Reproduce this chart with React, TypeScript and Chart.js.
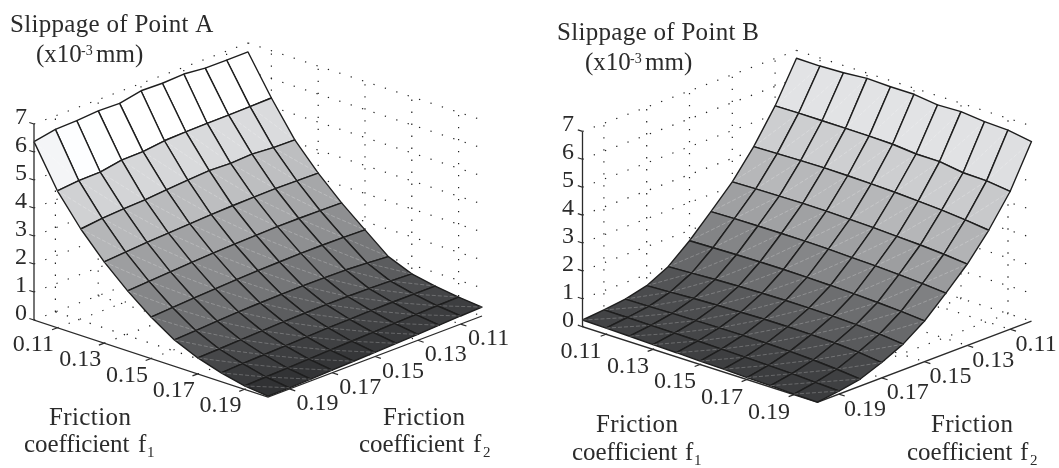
import React, { useEffect, useRef } from "react";
import { Chart, registerables } from "chart.js";

Chart.register(...registerables);

// ---------- data ----------
const F1_GRID = [0.1, 0.11, 0.12, 0.13, 0.14, 0.15, 0.16, 0.17, 0.18, 0.19, 0.2];
const F2_GRID = [0.2, 0.19, 0.18, 0.17, 0.16, 0.15, 0.14, 0.13, 0.12, 0.11, 0.1];
const F_TICKS = [0.11, 0.13, 0.15, 0.17, 0.19];
const Z_TICKS = [0, 1, 2, 3, 4, 5, 6, 7];

// Point A: one row per f1 (0.10 .. 0.20), values along F2_GRID
const A_F1_010 = [6.37, 6.52, 6.54, 6.6, 6.58, 6.74, 6.72, 6.76, 6.68, 6.68, 6.68];
const A_F1_011 = [4.89, 4.96, 4.98, 5.12, 5.13, 5.23, 5.26, 5.27, 5.28, 5.29, 5.31];
const A_F1_012 = [3.8, 3.89, 3.94, 3.97, 4.04, 4.1, 4.15, 4.12, 4.16, 4.1, 4.09];
const A_F1_013 = [2.9, 2.96, 3.02, 3.06, 3.1, 3.14, 3.17, 3.19, 3.2, 3.19, 3.18];
const A_F1_014 = [2.14, 2.19, 2.24, 2.29, 2.33, 2.36, 2.39, 2.41, 2.41, 2.4, 2.39];
const A_F1_015 = [1.48, 1.53, 1.58, 1.62, 1.66, 1.69, 1.71, 1.73, 1.73, 1.72, 1.7];
const A_F1_016 = [0.94, 0.98, 1.03, 1.07, 1.1, 1.12, 1.13, 1.13, 1.12, 1.08, 1.02];
const A_F1_017 = [0.57, 0.6, 0.64, 0.67, 0.7, 0.72, 0.74, 0.74, 0.73, 0.71, 0.68];
const A_F1_018 = [0.31, 0.35, 0.38, 0.41, 0.44, 0.47, 0.49, 0.51, 0.52, 0.52, 0.52];
const A_F1_019 = [0.12, 0.15, 0.18, 0.21, 0.24, 0.27, 0.3, 0.33, 0.35, 0.38, 0.4];
const A_F1_020 = [0.03, 0.04, 0.06, 0.09, 0.12, 0.15, 0.18, 0.21, 0.25, 0.29, 0.32];
const SLIP_A = [A_F1_010, A_F1_011, A_F1_012, A_F1_013, A_F1_014, A_F1_015, A_F1_016, A_F1_017, A_F1_018, A_F1_019, A_F1_020];

// Point B: one row per f2 (0.20 .. 0.10), values along F1_GRID
const B_F2_020 = [0.24, 0.22, 0.2, 0.17, 0.15, 0.12, 0.1, 0.07, 0.05, 0.02, 0.0];
const B_F2_019 = [0.31, 0.31, 0.3, 0.29, 0.28, 0.26, 0.24, 0.22, 0.19, 0.15, 0.11];
const B_F2_018 = [0.41, 0.42, 0.44, 0.45, 0.46, 0.46, 0.45, 0.43, 0.39, 0.33, 0.25];
const B_F2_017 = [0.6, 0.64, 0.68, 0.71, 0.73, 0.75, 0.75, 0.74, 0.71, 0.65, 0.55];
const B_F2_016 = [0.99, 1.03, 1.07, 1.1, 1.12, 1.13, 1.13, 1.11, 1.08, 1.01, 0.92];
const B_F2_015 = [1.63, 1.65, 1.67, 1.68, 1.68, 1.67, 1.65, 1.62, 1.58, 1.53, 1.46];
const B_F2_014 = [2.38, 2.4, 2.41, 2.41, 2.41, 2.39, 2.36, 2.33, 2.29, 2.24, 2.17];
const B_F2_013 = [3.16, 3.18, 3.19, 3.2, 3.19, 3.17, 3.14, 3.1, 3.06, 3.0, 2.92];
const B_F2_012 = [4.13, 4.15, 4.17, 4.18, 4.17, 4.15, 4.12, 4.07, 4.02, 3.94, 3.84];
const B_F2_011 = [5.3, 5.31, 5.31, 5.31, 5.3, 5.28, 5.2, 5.2, 5.07, 5.05, 4.94];
const B_F2_010 = [6.72, 6.71, 6.74, 6.81, 6.78, 6.78, 6.67, 6.7, 6.61, 6.58, 6.44];
const SLIP_B_BY_F2 = [B_F2_020, B_F2_019, B_F2_018, B_F2_017, B_F2_016, B_F2_015, B_F2_014, B_F2_013, B_F2_012, B_F2_011, B_F2_010];
const SLIP_B = F1_GRID.map((_, i) => SLIP_B_BY_F2.map((row) => row[i]));

// gray ramps: height -> gray level
const RAMP_Z = [0, 0.2, 0.4, 0.7, 1.1, 1.65, 2.35, 3.15, 4.1, 5.2, 6.4, 6.55];
const RAMP_A = [44, 52, 62, 76, 92, 116, 140, 165, 189, 216, 245, 255];
const RAMP_B = [58, 64, 74, 88, 108, 132, 158, 182, 204, 225, 240, 250];

const FONT = '"Liberation Serif", serif';
const INK = "#2b2b2b";
const TICK_SIZE = 24;
const TEXT_SIZE = 25;
const SMALL_SIZE = 15;

function grayOf(z: number, ramp: number[]) {
  let k = 0;
  while (k < RAMP_Z.length - 2 && z > RAMP_Z[k + 1]) k++;
  const t = Math.min(1, Math.max(0, (z - RAMP_Z[k]) / (RAMP_Z[k + 1] - RAMP_Z[k])));
  const g = Math.round(ramp[k] + t * (ramp[k + 1] - ramp[k]));
  return `rgb(${g},${Math.min(255, g + 1)},${Math.min(255, g + 3)})`;
}

type TextRun = { s: string; x: number; y: number; size?: number; ls?: number };

type PanelCfg = {
  xMin: number; xMax: number;
  origin: [number, number];
  f1Vec: [number, number];
  f2Vec: [number, number];
  zUnit: number;
  surface: number[][];
  ramp: number[];
  f1Offset: [number, number];
  f2Offset: [number, number];
  zLabelX: number;
  texts: TextRun[];
};

const PANEL_A: PanelCfg = {
  xMin: 0, xMax: 530,
  origin: [34, 320], f1Vec: [234, 77], f2Vec: [214, -81], zUnit: 28,
  surface: SLIP_A, ramp: RAMP_A,
  f1Offset: [-24, 23], f2Offset: [28, 21], zLabelX: 27,
  texts: [
    { s: "Slippage of Point A", x: 10, y: 32, ls: 0.3 },
    { s: "(x10", x: 36, y: 62 },
    { s: "-3", x: 81, y: 55, size: 14 },
    { s: "mm)", x: 96, y: 62 },
    { s: "Friction", x: 49, y: 425, ls: 0.4 },
    { s: "coefficient", x: 24, y: 452, ls: -0.1 },
    { s: "f", x: 138, y: 452 },
    { s: "1", x: 147, y: 457, size: SMALL_SIZE },
    { s: "Friction", x: 383, y: 425, ls: 0.4 },
    { s: "coefficient", x: 359, y: 452, ls: -0.1 },
    { s: "f", x: 473, y: 452 },
    { s: "2", x: 483, y: 457, size: SMALL_SIZE },
  ],
};

const PANEL_B: PanelCfg = {
  xMin: 530, xMax: 1059,
  origin: [582.5, 326.7], f1Vec: [235, 75.5], f2Vec: [214, -81], zUnit: 27.9,
  surface: SLIP_B, ramp: RAMP_B,
  f1Offset: [-25, 24], f2Offset: [26, 21.5], zLabelX: 574,
  texts: [
    { s: "Slippage of Point B", x: 557, y: 39.5, ls: 0.3 },
    { s: "(x10", x: 585, y: 69.5 },
    { s: "-3", x: 630, y: 62.5, size: 14 },
    { s: "mm)", x: 645, y: 69.5 },
    { s: "Friction", x: 596, y: 432, ls: 0.4 },
    { s: "coefficient", x: 572, y: 460, ls: -0.1 },
    { s: "f", x: 685, y: 460 },
    { s: "1", x: 694, y: 465, size: SMALL_SIZE },
    { s: "Friction", x: 931, y: 432, ls: 0.4 },
    { s: "coefficient", x: 907, y: 460, ls: -0.1 },
    { s: "f", x: 1020, y: 460 },
    { s: "2", x: 1030, y: 465, size: SMALL_SIZE },
  ],
};

function makeProjector(p: PanelCfg) {
  return (f1: number, f2: number, z: number) => ({
    x: p.origin[0] + (f1 - 0.1) * 10 * p.f1Vec[0] + (0.2 - f2) * 10 * p.f2Vec[0],
    y: p.origin[1] + (f1 - 0.1) * 10 * p.f1Vec[1] + (0.2 - f2) * 10 * p.f2Vec[1] - z * p.zUnit,
  });
}

function lineSet(data: { x: number; y: number }[], color: string, width: number, extra: object = {}) {
  return {
    data,
    showLine: true,
    borderColor: color,
    borderWidth: width,
    pointRadius: 0,
    pointHoverRadius: 0,
    tension: 0,
    fill: false,
    clip: false,
    ...extra,
  };
}

function buildDatasets(p: PanelCfg) {
  const P = makeProjector(p);
  const sets: any[] = [];
  const dotted = (a: any, b: any) =>
    sets.push(lineSet([a, b], "#222222", 1.2, { borderDash: [1.3, 10.7], borderCapStyle: "butt" }));
  const zTop = Z_TICKS[Z_TICKS.length - 1];

  // dotted box grid
  for (const z of Z_TICKS) {
    dotted(P(0.1, 0.2, z), P(0.1, 0.1, z));
    dotted(P(0.1, 0.1, z), P(0.2, 0.1, z));
  }
  for (const t of F_TICKS) {
    dotted(P(t, 0.1, 0), P(t, 0.1, zTop));
    dotted(P(t, 0.2, 0), P(t, 0.1, 0));
    dotted(P(0.1, t, 0), P(0.1, t, zTop));
    dotted(P(0.1, t, 0), P(0.2, t, 0));
  }

  // axes and their ticks
  sets.push(lineSet([P(0.1, 0.2, zTop), P(0.1, 0.2, 0), P(0.2, 0.2, 0), P(0.2, 0.1, 0)], INK, 1.3));
  for (const z of Z_TICKS) sets.push(lineSet([P(0.1, 0.2, z), P(0.098, 0.2, z)], INK, 1.2));
  for (const t of F_TICKS) {
    sets.push(lineSet([P(t, 0.2, 0), P(t, 0.2025, 0)], INK, 1.2));
    sets.push(lineSet([P(0.2, t, 0), P(0.2025, t, 0)], INK, 1.2));
  }

  // surface, painted from the far corner (low f1, low f2) to the near one
  const cells: { i: number; j: number }[] = [];
  for (let i = 0; i < F1_GRID.length - 1; i++)
    for (let j = 0; j < F2_GRID.length - 1; j++) cells.push({ i, j });
  cells.sort((a, b) => a.i - a.j - (b.i - b.j));
  for (const { i, j } of cells) {
    const v = (a: number, b: number) => P(F1_GRID[a], F2_GRID[b], p.surface[a][b]);
    sets.push(
      lineSet([v(i, j), v(i, j + 1), v(i + 1, j + 1), v(i + 1, j), v(i, j)], "#1e1e1e", 1.4, {
        fill: "shape",
        backgroundColor: grayOf(p.surface[i][j], p.ramp),
        borderJoinStyle: "round",
      })
    );
    sets.push(lineSet([v(i, j), v(i + 1, j + 1)], "rgba(255,255,255,0.32)", 0.7, { borderDash: [4, 2] }));
  }
  return sets.reverse(); // Chart.js paints the last dataset first
}

const textPlugin = {
  id: "panelText",
  afterDraw(chart: any) {
    const p: PanelCfg = chart.options.plugins.panelText.panel;
    const P = makeProjector(p);
    const { ctx, scales } = chart;
    const put = (s: string, x: number, y: number, size: number, align: CanvasTextAlign = "left", ls = 0) => {
      ctx.font = `${size}px ${FONT}`;
      ctx.textAlign = align;
      ctx.textBaseline = "alphabetic";
      ctx.fillStyle = INK;
      ctx.letterSpacing = `${ls}px`;
      ctx.fillText(s, scales.x.getPixelForValue(x), scales.y.getPixelForValue(y));
    };
    ctx.save();
    for (const t of F_TICKS) {
      const a = P(t, 0.2, 0);
      put(t.toFixed(2), a.x + p.f1Offset[0], a.y + p.f1Offset[1], TICK_SIZE, "center");
      const b = P(0.2, t, 0);
      put(t.toFixed(2), b.x + p.f2Offset[0], b.y + p.f2Offset[1], TICK_SIZE, "center");
    }
    for (const z of Z_TICKS) {
      put(String(z), p.zLabelX, P(0.1, 0.2, z).y, TICK_SIZE, "right");
    }
    for (const r of p.texts) put(r.s, r.x, r.y, r.size ?? TEXT_SIZE, "left", r.ls ?? 0);
    ctx.restore();
  },
};

function Panel({ cfg }: { cfg: PanelCfg }) {
  const ref = useRef<HTMLCanvasElement>(null);
  useEffect(() => {
    const chart = new Chart(ref.current as HTMLCanvasElement, {
      type: "scatter",
      data: { datasets: buildDatasets(cfg) },
      plugins: [textPlugin as any],
      options: {
        animation: false,
        responsive: false,
        layout: { padding: 0 },
        events: [],
        scales: {
          x: { type: "linear", display: false, min: cfg.xMin, max: cfg.xMax },
          y: { type: "linear", display: false, min: 0, max: 468, reverse: true },
        },
        plugins: {
          legend: { display: false },
          tooltip: { enabled: false },
          panelText: { panel: cfg },
        } as any,
      },
    });
    return () => chart.destroy();
  }, [cfg]);
  return (
    <canvas
      ref={ref}
      width={cfg.xMax - cfg.xMin}
      height={468}
      style={{ display: "block", width: cfg.xMax - cfg.xMin, height: 468 }}
    />
  );
}

export default function App() {
  return (
    <div style={{ position: "fixed", left: 0, top: 0, width: 1059, height: 468, display: "flex", background: "#fff" }}>
      <Panel cfg={PANEL_A} />
      <Panel cfg={PANEL_B} />
    </div>
  );
}
